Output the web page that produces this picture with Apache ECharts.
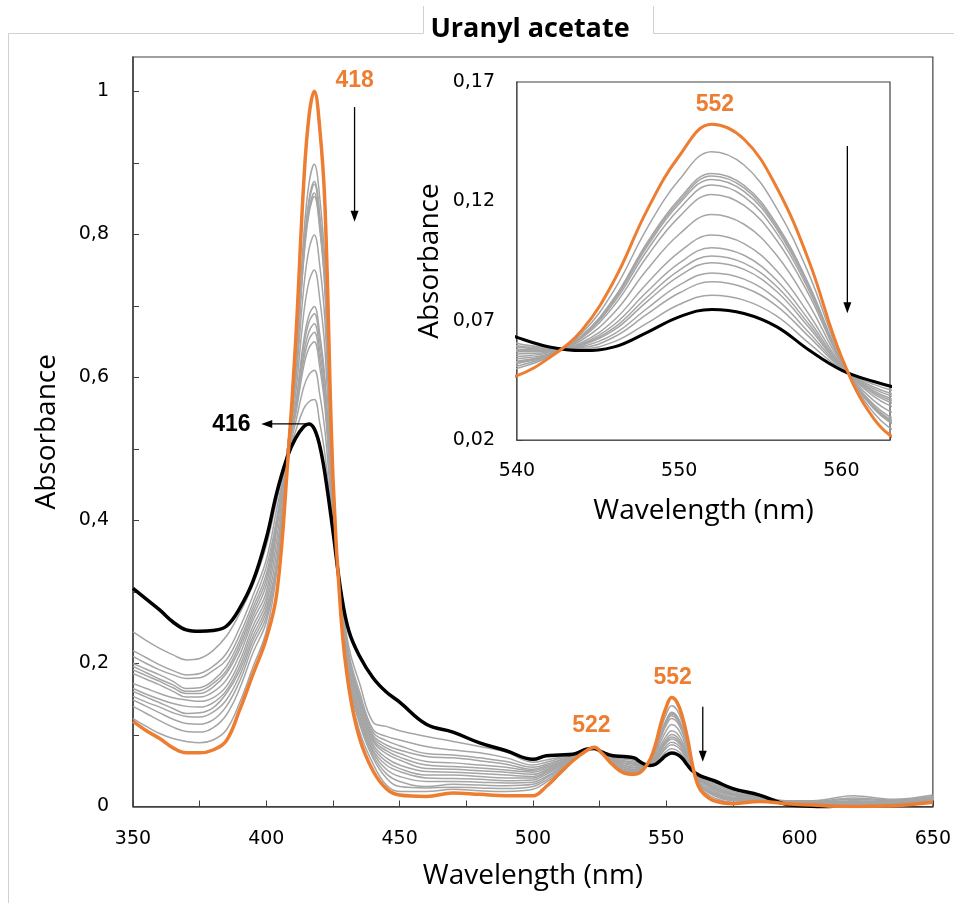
<!DOCTYPE html>
<html><head><meta charset="utf-8">
<script src="https://cdn.jsdelivr.net/npm/echarts@6/dist/echarts.min.js"></script>
<style>html,body{margin:0;padding:0;background:#fff}#c{width:954px;height:903px}</style>
</head><body><div id="c"></div><script>
const wavelengths = [350,355,360,365,370,375,380,385,390,395,400,404,408,411,414,416,418,420,422,425,428,431,435,440,445,450,460,470,480,490,500,505,510,515,520,523,526,530,534,538,540,542,544,546,548,550,552,554,556,558,560,562,564,568,575,585,595,605,620,635,650];

const initialSpectrum = [.119,.106,.095,.082,.075,.075,.079,.092,.135,.185,.235, .300,.480,.650,.870,.965,1.000,.950,.840,.460,.265,.165,.095,.050,.025,.016, .014,.019,.017,.015,.015,.028,.046,.064,.078,.083,.074,.058,.047,.045, .047,.0545,.066,.087,.116,.139,.1523,.146,.126,.095,.055,.029,.018, .008,.004,.007,.004,.002,.000,.001,.006];
const finalSpectrum = [.305,.290,.275,.258,.247,.245,.246,.252,.277,.315,.375, .440,.490,.515,.531,.535,.528,.505,.465,.385,.300,.245,.210,.180,.160,.146, .115,.104,.089,.078,.066,.071,.072,.073,.080,.081,.076,.071,.070,.068, .063,.059,.0575,.059,.065,.0716,.0747,.073,.0675,.0577,.0493,.0445,.041, .036,.025,.016,.003,.000,-.010,-.010,-.010];

const spectrum01 = [.123,.112,.102,.095,.091,.089,.093,.107,.145,.195,.245, .331,.500,.620,.796,.871,.898,.853,.758,.444,.269,.168,.105,.060,.030,.021, .021,.024,.022,.021,.024,.034,.048,.065,.078,.083,.074,.059,.049,.047, .050,.055,.0647,.0829,.1085,.129,.1408,.1352,.1173,.0895,.0542,.0313,.0214, .012,.006,.008,.004,.002,.001,.001,.006];
const spectrum02 = [.140,.130,.120,.111,.105,.104,.110,.128,.165,.215,.258, .338,.500,.613,.778,.848,.874,.829,.738,.440,.271,.175,.115,.068,.040,.028, .026,.027,.026,.025,.028,.037,.050,.066,.078,.083,.074,.060,.050,.048, .051,.0553,.0637,.0796,.1025,.121,.1317,.1267,.1105,.0851,.0535,.0331,.0241, .015,.008,.009,.004,.003,.002,.002,.007];
const spectrum03 = [.149,.140,.131,.122,.116,.115,.121,.140,.175,.225,.265, .339,.500,.612,.775,.845,.870,.825,.735,.439,.271,.178,.120,.072,.046,.035, .028,.031,.030,.029,.031,.040,.052,.067,.079,.083,.074,.060,.051,.049, .052,.0555,.0636,.0792,.1017,.120,.1306,.1256,.1096,.0846,.0534,.0333,.0244, .016,.009,.009,.005,.003,.002,.002,.007];
const spectrum04 = [.154,.146,.139,.131,.126,.125,.132,.149,.183,.232,.272, .343,.500,.609,.767,.834,.858,.814,.726,.437,.272,.181,.124,.076,.052,.042, .035,.035,.034,.033,.034,.042,.053,.067,.079,.083,.075,.061,.052,.050, .0525,.0558,.0635,.0787,.1008,.119,.1292,.1242,.1086,.0839,.0533,.0336,.0249, .017,.010,.010,.005,.004,.003,.003,.008];
const spectrum05 = [.161,.153,.145,.137,.130,.131,.138,.158,.190,.238,.278, .344,.500,.607,.763,.829,.853,.809,.721,.436,.273,.183,.127,.079,.058,.049, .040,.039,.038,.036,.037,.045,.055,.068,.079,.082,.075,.062,.054,.051, .053,.056,.0632,.0778,.0992,.1168,.1268,.122,.1068,.0827,.0531,.0341,.0256, .018,.011,.010,.005,.004,.003,.003,.008];
const spectrum06 = [.165,.157,.150,.144,.140,.139,.145,.162,.196,.245,.285, .360,.500,.592,.724,.779,.799,.758,.678,.428,.277,.188,.132,.083,.063,.053, .044,.044,.042,.040,.040,.047,.057,.068,.079,.082,.075,.062,.055,.052, .054,.0562,.0628,.0764,.0967,.1135,.1229,.1183,.1038,.0809,.0528,.0349,.0267, .019,.012,.011,.005,.004,.004,.004,.009];
const spectrum07 = [.172,.165,.158,.152,.149,.147,.152,.168,.203,.252,.292, .375,.500,.577,.688,.734,.750,.711,.638,.420,.282,.192,.137,.087,.068,.058, .049,.048,.046,.044,.042,.049,.058,.069,.079,.082,.075,.063,.057,.054, .055,.0566,.0619,.0734,.0912,.1062,.1145,.1104,.0975,.0768,.0522,.0365,.0292, .021,.013,.011,.006,.005,.004,.004,.009];
const spectrum08 = [.186,.178,.170,.161,.153,.153,.160,.177,.212,.260,.300, .390,.500,.563,.651,.687,.699,.662,.597,.411,.286,.197,.142,.091,.074,.065, .053,.052,.050,.048,.045,.051,.060,.069,.079,.082,.075,.064,.058,.055, .056,.057,.0609,.0703,.0855,.0987,.1059,.1023,.0910,.0727,.0516,.0383,.0318, .023,.015,.012,.006,.005,.005,.005,.010];
const spectrum09 = [.191,.183,.175,.166,.158,.158,.167,.186,.220,.266,.310, .394,.500,.560,.643,.677,.689,.652,.589,.410,.287,.199,.145,.094,.078,.069, .058,.056,.054,.051,.048,.053,.061,.070,.079,.082,.075,.065,.060,.057, .057,.0573,.0603,.0684,.0820,.0941,.1006,.0974,.0870,.0702,.0512,.0393,.0333, .025,.016,.012,.006,.005,.006,.005,.010];
const spectrum10 = [.196,.187,.178,.170,.161,.162,.172,.190,.226,.272,.318, .398,.495,.556,.633,.664,.675,.639,.578,.408,.288,.202,.148,.097,.082,.074, .063,.061,.058,.055,.050,.055,.062,.070,.080,.082,.075,.066,.061,.059, .0575,.0575,.0600,.0671,.0797,.0911,.0971,.0941,.0844,.0685,.0509,.0400,.0344, .026,.017,.013,.006,.006,.007,.006,.011];
const spectrum11 = [.200,.192,.184,.175,.165,.166,.176,.196,.232,.278,.325, .402,.495,.552,.624,.653,.663,.627,.568,.406,.289,.205,.151,.100,.086,.079, .070,.068,.064,.059,.052,.057,.064,.071,.080,.082,.076,.067,.063,.060, .058,.0578,.0597,.0661,.0779,.0887,.0943,.0915,.0823,.0671,.0507,.0406,.0352, .027,.018,.013,.007,.006,.008,.007,.012];
const spectrum12 = [.210,.200,.191,.184,.179,.180,.190,.205,.240,.285,.335, .405,.495,.548,.615,.641,.650,.615,.558,.404,.290,.208,.155,.104,.092,.085, .074,.072,.068,.063,.055,.059,.065,.071,.080,.082,.076,.068,.064,.062, .059,.058,.0592,.0645,.0750,.0849,.0900,.0874,.0790,.0650,.0504,.0414,.0365, .029,.019,.014,.007,.006,.010,.008,.013];
const spectrum13 = [.218,.208,.198,.190,.184,.186,.196,.214,.250,.295,.345, .418,.490,.537,.586,.604,.610,.577,.525,.397,.294,.213,.160,.108,.098,.093, .084,.079,.075,.068,.058,.062,.067,.072,.080,.081,.076,.069,.066,.064, .0595,.0585,.0588,.0632,.0726,.0816,.0863,.0839,.0762,.0633,.0501,.0422,.0376, .031,.021,.014,.007,.007,.012,.009,.014];
const spectrum14 = [.244,.232,.221,.212,.205,.207,.218,.238,.270,.310,.365, .430,.490,.525,.556,.566,.569,.537,.492,.390,.297,.222,.172,.118,.112,.106, .098,.091,.084,.076,.062,.065,.069,.073,.080,.081,.076,.070,.068,.066, .0605,.0588,.0582,.0612,.0689,.0768,.0807,.0786,.0720,.0606,.0497,.0433,.0392, .033,.023,.015,.008,.008,.015,.010,.016];

const mainXTicks = [350,400,450,500,550,600,650];
const insetYLabels = [0.02,0.07,0.12,0.17];
const insetYTicks = [0.02,0.045,0.07,0.095,0.12,0.145,0.17];

const titleText = 'Uranyl acetate';
const peakLabels = [
  {text:'418', g:0, at:[433.1, 1.015], color:'orange'},
  {text:'416', g:0, at:[386.9, 0.534], color:'black'},
  {text:'522', g:0, at:[521.9, 0.1126], color:'orange'},
  {text:'552', g:0, at:[552.4, 0.180], color:'orange'},
  {text:'552', g:1, at:[552.2, 0.1604], color:'orange'}
];
const arrows = [
  {g:0, from:[433.1, 0.978], to:[433.1, 0.8175]},
  {g:0, from:[415.0, 0.535], to:[398.1, 0.535]},
  {g:0, from:[563.7, 0.1396], to:[563.7, 0.0627]},
  {g:1, from:[560.37, 0.1432], to:[560.37, 0.0731]}
];

const ORANGE = '#ED7D31', GRAY = '#A5A5A5', FRAME = '#404040';
const grays = [spectrum01,spectrum02,spectrum03,spectrum04,spectrum05,spectrum06,spectrum07,spectrum08,spectrum09,spectrum10,spectrum11,spectrum12,spectrum13,spectrum14];
const pairs = arr => wavelengths.map((w, i) => [w, arr[i]]);
const comma = v => String(Math.round(v * 1000) / 1000).replace('.', ',');

const chart = echarts.init(document.getElementById('c'), null, {renderer: 'canvas'});
const series = [];
[0, 1].forEach(g => {
  const lwMain = g === 0 ? 3.5 : 3;
  const zb = g === 0 ? 2 : 10;
  grays.forEach((arr, i) => series.push({
    type: 'line', name: 'spectrum ' + (i + 1), xAxisIndex: g, yAxisIndex: g, data: pairs(arr),
    showSymbol: false, smooth: 0.4, clip: true, silent: true,
    lineStyle: {color: GRAY, width: 1.5}, z: zb
  }));
  series.push({type: 'line', name: 'final', xAxisIndex: g, yAxisIndex: g, data: pairs(finalSpectrum),
    showSymbol: false, smooth: 0.4, clip: true, lineStyle: {color: '#000', width: lwMain}, z: zb + 1});
  series.push({type: 'line', name: 'initial', xAxisIndex: g, yAxisIndex: g, data: pairs(initialSpectrum),
    showSymbol: false, smooth: 0.4, clip: true, lineStyle: {color: ORANGE, width: lwMain}, z: zb + 2});
});

const labelFont = {fontFamily: 'DejaVu Sans', fontSize: 19, color: '#000'};
const nameFont = {fontFamily: 'Open Sans', fontSize: 28, color: '#000'};
const option = {
  animation: false,
  backgroundColor: '#fff',
  title: {text: titleText, left: 525, top: 11, textAlign: 'center',
    textStyle: {fontFamily: 'Open Sans', fontWeight: 'bold', fontSize: 27, color: '#000'}},
  grid: [
    {left: 133, top: 57, width: 800, height: 749.5, show: true, borderColor: FRAME, borderWidth: 1.2, backgroundColor: '#fff', containLabel: false},
    {left: 517, top: 82, width: 373, height: 358, show: true, borderColor: FRAME, borderWidth: 1.2, backgroundColor: '#fff', containLabel: false, z: 5}
  ],
  xAxis: [
    {type: 'value', gridIndex: 0, min: 350, max: 650, interval: 25,
      name: 'Wavelength (nm)', nameLocation: 'middle', nameGap: 56, nameTextStyle: nameFont,
      axisLine: {lineStyle: {color: FRAME, width: 1.5}}, axisTick: {inside: true, length: 6, lineStyle: {color: FRAME}},
      splitLine: {show: false},
      axisLabel: Object.assign({margin: 23, formatter: v => mainXTicks.includes(v) ? String(v) : ''}, labelFont)},
    {type: 'value', gridIndex: 1, min: 540, max: 563, interval: 5,
      name: 'Wavelength (nm)', nameLocation: 'middle', nameGap: 57, nameTextStyle: nameFont,
      axisLine: {lineStyle: {color: FRAME, width: 1.5}}, axisTick: {inside: true, length: 6, lineStyle: {color: FRAME}},
      splitLine: {show: false},
      axisLabel: Object.assign({margin: 22, formatter: v => (v % 10 === 0 && v <= 560) ? String(v) : ''}, labelFont)}
  ],
  yAxis: [
    {type: 'value', gridIndex: 0, min: 0, max: 1.048, interval: 0.1,
      name: 'Absorbance', nameLocation: 'middle', nameGap: 72, nameRotate: 90, nameTextStyle: nameFont,
      axisLine: {show: true, lineStyle: {color: FRAME, width: 1.5}}, axisTick: {show: true, inside: true, length: 6, lineStyle: {color: FRAME}},
      splitLine: {show: false},
      axisLabel: Object.assign({margin: 24, showMaxLabel: false, formatter: v => {
        const k = Math.round(v * 10);
        if (Math.abs(v * 10 - k) > 1e-6 || k % 2 !== 0 || k > 10) return '';
        return comma(k / 10);
      }}, labelFont)},
    {type: 'value', gridIndex: 1, min: 0.02, max: 0.17,
      name: 'Absorbance', nameLocation: 'middle', nameGap: 73, nameRotate: 90, nameTextStyle: nameFont,
      axisLine: {show: true, lineStyle: {color: FRAME, width: 1.5}},
      axisTick: {show: true, inside: true, length: 6, customValues: insetYTicks, lineStyle: {color: FRAME}},
      splitLine: {show: false},
      axisLabel: Object.assign({margin: 22, customValues: insetYLabels, formatter: v => v.toFixed(2).replace('.', ',')}, labelFont)}
  ],
  series: series
};
chart.setOption(option);

function px(g, p) { return chart.convertToPixel({xAxisIndex: g, yAxisIndex: g}, p); }
const graphic = [
  {type: 'polyline', silent: true, shape: {points: [[8.5, 903], [8.5, 33.5], [423.5, 33.5], [423.5, 6]]}, style: {stroke: '#D0D0D0', lineWidth: 1, fill: null}, z: 0},
  {type: 'polyline', silent: true, shape: {points: [[653.5, 6], [653.5, 33.5], [954, 33.5]]}, style: {stroke: '#D0D0D0', lineWidth: 1, fill: null}, z: 0}
];
peakLabels.forEach(l => {
  const p = px(l.g, l.at);
  graphic.push({type: 'text', x: p[0], y: p[1], z: 100, silent: true,
    style: {text: l.text, fill: l.color === 'orange' ? ORANGE : '#000', font: 'bold 23px "Liberation Sans"', textAlign: 'center', textVerticalAlign: 'middle'}});
});
arrows.forEach(a => {
  const p0 = px(a.g, a.from), p1 = px(a.g, a.to);
  const dx = p1[0] - p0[0], dy = p1[1] - p0[1], L = Math.hypot(dx, dy), ux = dx / L, uy = dy / L;
  const hl = 11, hw = 4;
  const b = [p1[0] - ux * hl, p1[1] - uy * hl];
  graphic.push({type: 'line', z: 100, silent: true, shape: {x1: p0[0], y1: p0[1], x2: b[0] + ux, y2: b[1] + uy}, style: {stroke: '#000', lineWidth: 1.3}});
  graphic.push({type: 'polygon', z: 100, silent: true, shape: {points: [p1, [b[0] - uy * hw, b[1] + ux * hw], [b[0] + uy * hw, b[1] - ux * hw]]}, style: {fill: '#000'}});
});
chart.setOption({graphic: graphic});
</script></body></html>
